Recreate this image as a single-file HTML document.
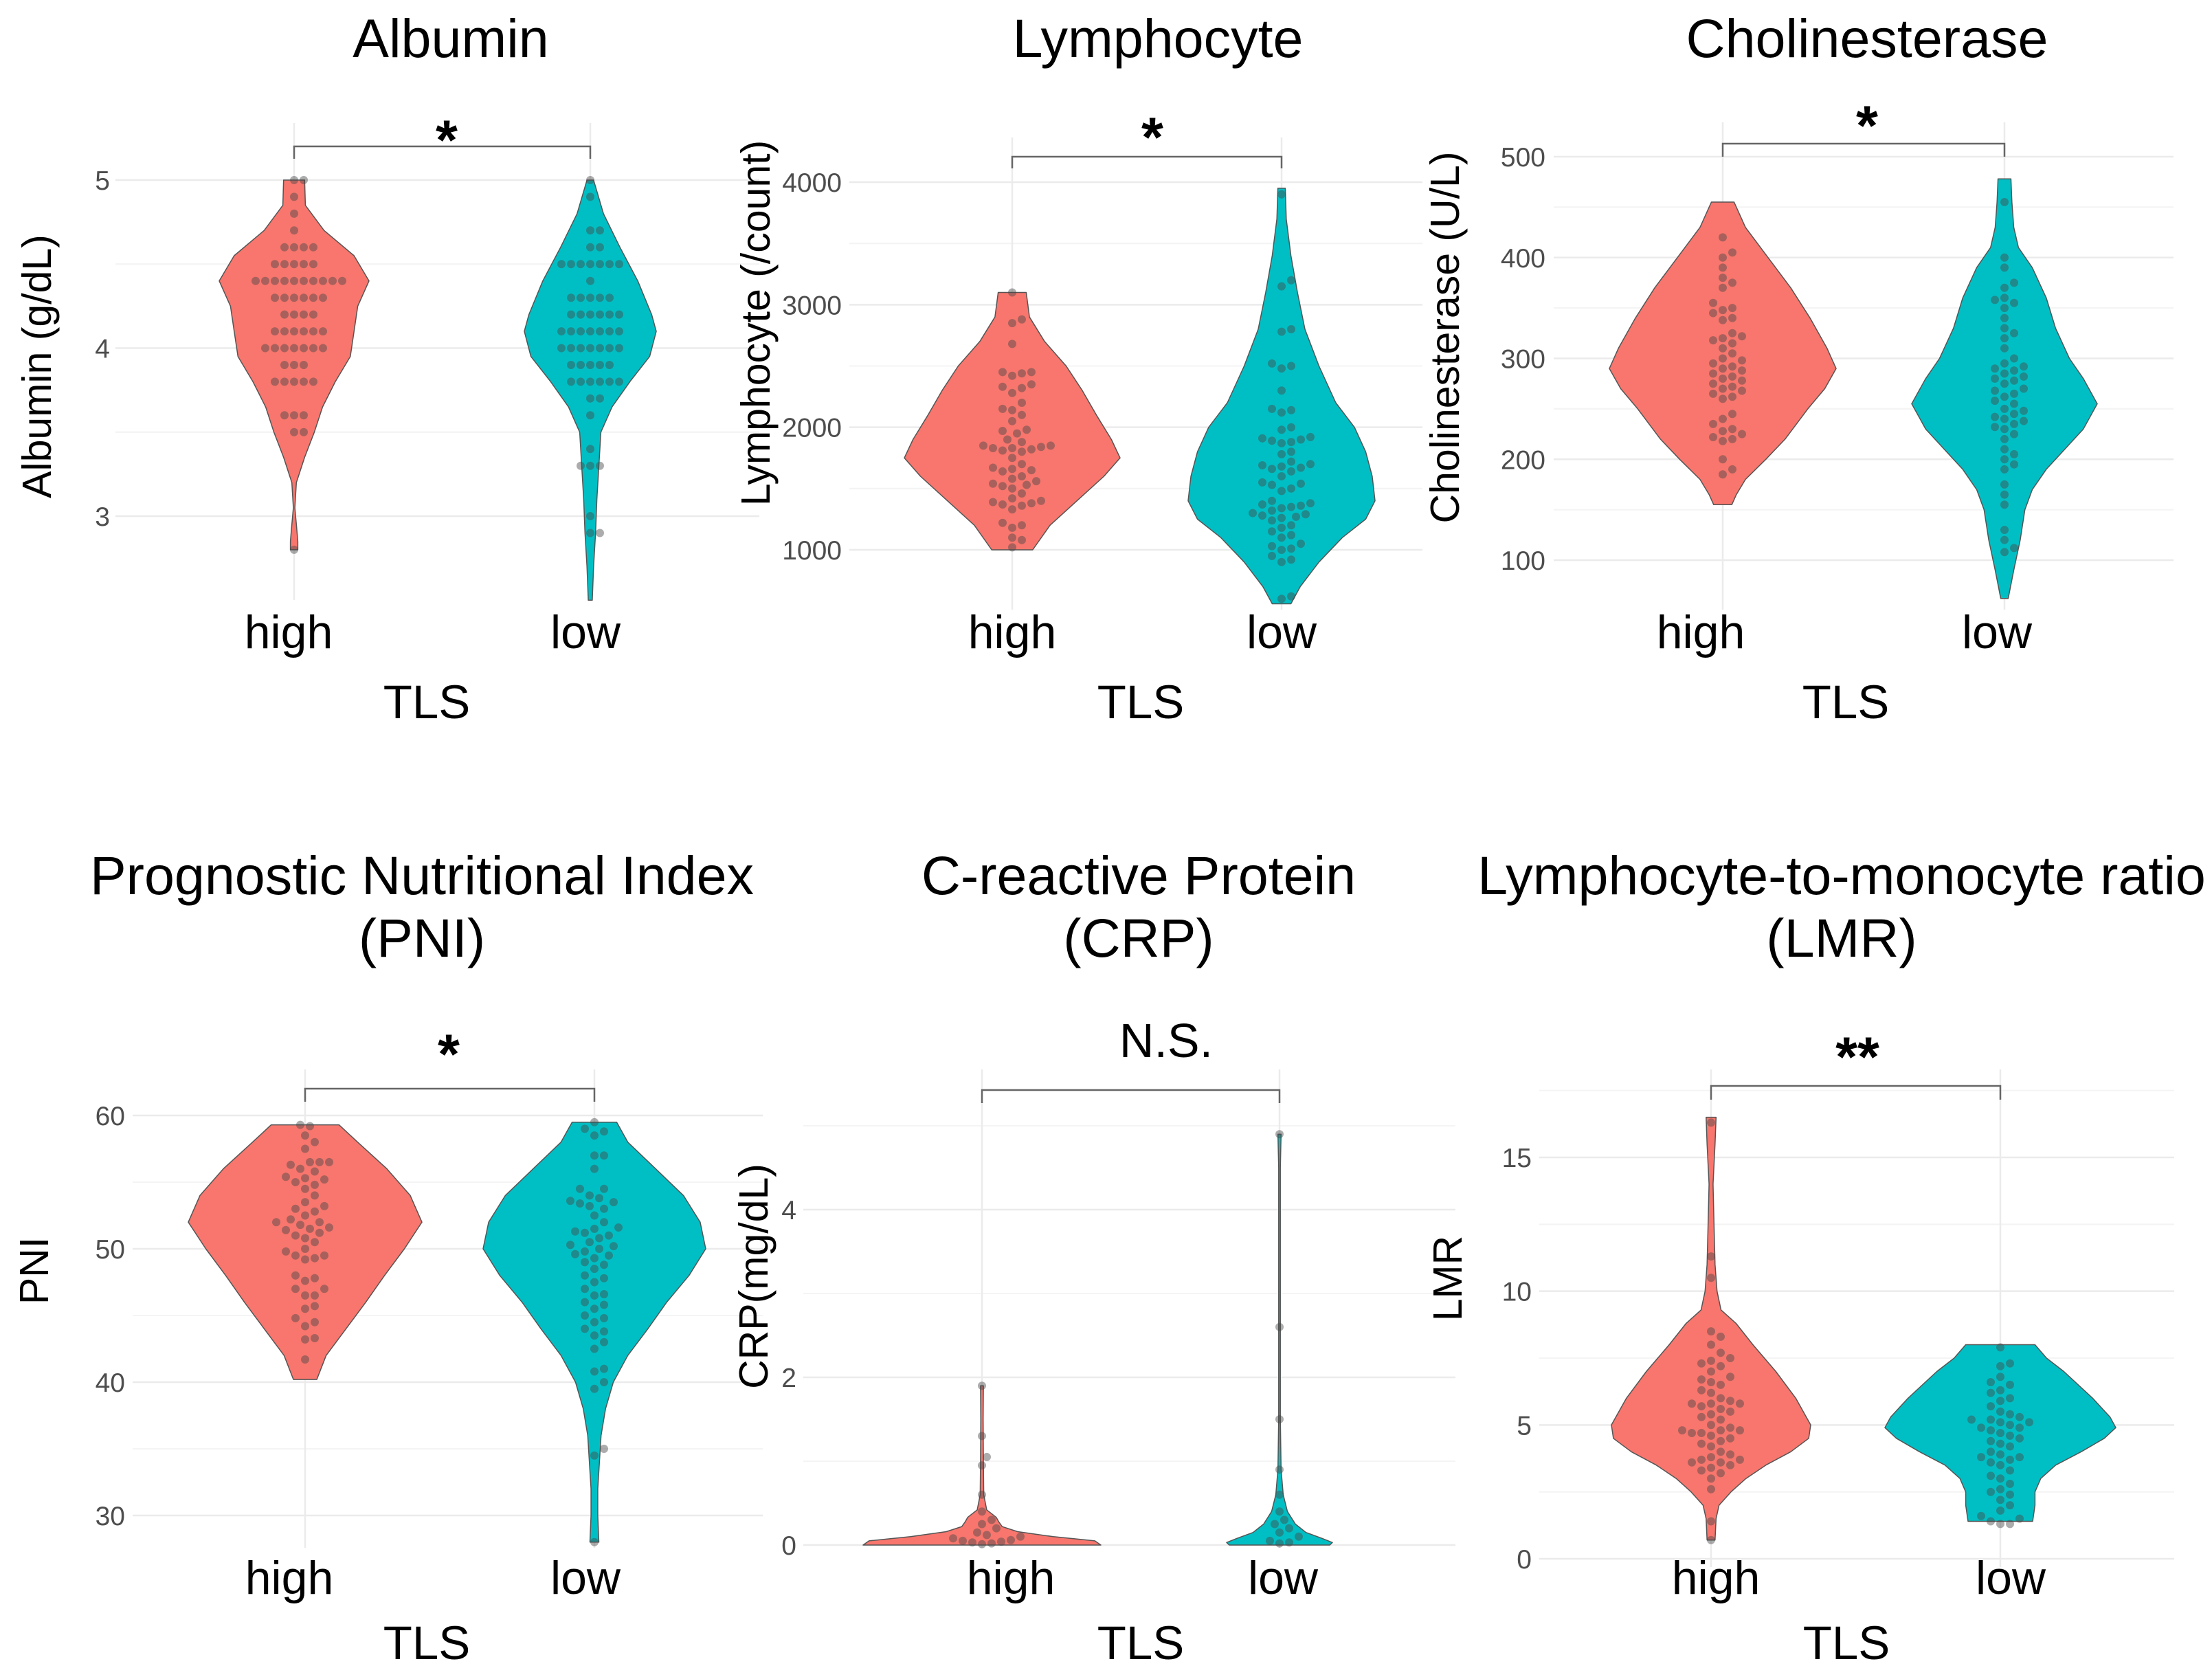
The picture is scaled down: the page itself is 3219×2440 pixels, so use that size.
<!DOCTYPE html>
<html><head><meta charset="utf-8"><style>
html,body{margin:0;padding:0;background:#fff;}
svg{display:block;font-family:"Liberation Sans",Arial,sans-serif;}
</style></head><body>
<svg id="fig" width="3219" height="2440" viewBox="0 0 3219 2440" xmlns="http://www.w3.org/2000/svg"></svg>
<script>
// ---------- data ----------
const categories = ["high","low"];
const albTicks = [3,4,5];
const albHighProfV = [5.0,4.85,4.7,4.55,4.4,4.25,4.1,3.95,3.8,3.65,3.5,3.35,3.2,3.05,2.95,2.85,2.8];
const albHighProfW = [0.14,0.15,0.4,0.8,1.0,0.85,0.8,0.75,0.55,0.38,0.27,0.14,0.03,0.01,0.03,0.05,0.05];
const albLowProfV = [5.0,4.8,4.6,4.4,4.2,4.1,3.95,3.8,3.65,3.5,3.3,3.1,2.9,2.7,2.5];
const albLowProfW = [0.05,0.2,0.45,0.72,0.93,1.0,0.9,0.6,0.33,0.16,0.13,0.1,0.08,0.05,0.03];
const albHighDotV = [5.0,4.9,4.8,4.7,4.6,4.5,4.4,4.3,4.2,4.1,4.0,3.9,3.8,3.6,3.5,2.8];
const albHighDotN = [2,1,1,1,4,5,10,6,4,6,7,3,5,3,2,1];
const albLowDotV = [5.0,4.9,4.7,4.6,4.5,4.4,4.3,4.2,4.1,4.0,3.9,3.8,3.7,3.6,3.4,3.3,3.0,2.9];
const albLowDotN = [1,1,2,2,7,1,5,6,7,7,5,6,2,1,1,3,1,2];

const lymTicks = [1000,2000,3000,4000];
const lymHighProfV = [3100,2900,2700,2500,2300,2100,1900,1750,1600,1400,1200,1000];
const lymHighProfW = [0.13,0.16,0.3,0.5,0.65,0.78,0.92,1.0,0.85,0.6,0.35,0.19];
const lymLowProfV = [3950,3700,3400,3100,2800,2500,2200,2000,1800,1600,1400,1250,1100,900,700,560];
const lymLowProfW = [0.04,0.05,0.1,0.17,0.25,0.4,0.58,0.78,0.9,0.97,1.0,0.9,0.65,0.4,0.2,0.1];
const lymHighDots = [3100,2880,2850,2680,2450,2450,2440,2420,2350,2330,2320,2280,2200,2150,2140,2100,2050,1980,1970,1950,1900,1880,1850,1850,1840,1830,1830,1820,1810,1800,1750,1700,1670,1660,1650,1640,1600,1580,1560,1540,1530,1520,1500,1460,1420,1400,1390,1380,1370,1360,1330,1220,1200,1180,1100,1080,1020];
const lymLowDots = [3900,3200,3150,2800,2780,2520,2500,2480,2300,2150,2140,2120,2000,1980,1920,1910,1900,1890,1880,1870,1800,1780,1720,1700,1690,1680,1670,1660,1640,1600,1550,1540,1530,1500,1480,1400,1380,1370,1360,1350,1340,1320,1300,1290,1280,1270,1260,1240,1200,1180,1150,1120,1100,1050,1030,1010,1000,950,920,900,620,600];

const choTicks = [100,200,300,400,500];
const choHighProfV = [455,430,400,370,340,310,290,270,250,220,200,180,165,155];
const choHighProfW = [0.1,0.2,0.4,0.6,0.77,0.92,1.0,0.9,0.75,0.55,0.38,0.2,0.12,0.08];
const choLowProfV = [478,455,430,410,390,360,330,300,280,255,230,210,190,170,150,120,90,62];
const choLowProfW = [0.07,0.08,0.1,0.15,0.3,0.45,0.55,0.7,0.85,1.0,0.85,0.65,0.45,0.3,0.22,0.17,0.1,0.04];
const choHighDots = [420,405,400,390,380,375,370,355,350,348,345,340,338,325,322,320,318,315,310,305,300,298,295,292,290,288,285,282,280,278,275,272,270,268,265,262,260,245,240,235,230,228,225,222,220,218,200,190,185];
const choLowDots = [455,400,390,375,370,360,358,355,350,340,330,325,320,310,300,295,292,290,288,285,282,280,278,275,270,268,265,262,258,255,250,248,245,242,240,238,235,232,230,225,220,210,205,200,195,190,175,165,155,130,120,112,108];

const pniTicks = [30,40,50,60];
const pniHighProfV = [59.3,58,56,54,52,50,48,46,44,42,40.2];
const pniHighProfW = [0.29,0.45,0.7,0.9,1.0,0.85,0.68,0.52,0.35,0.18,0.1];
const pniLowProfV = [59.5,58,56,54,52,50,48,46,44,42,40,38,36,34,32,30,28];
const pniLowProfW = [0.2,0.3,0.55,0.8,0.95,1.0,0.85,0.65,0.48,0.3,0.17,0.1,0.06,0.045,0.03,0.03,0.04];
const pniHighDots = [59.3,59.2,58.5,58,57.5,56.5,56.5,56.5,56.3,56,55.8,55.4,55.3,55.2,55,54.8,54.5,54,53.5,53.2,53,52.8,52.5,52.2,52,52,51.8,51.6,51.5,51.4,51.2,51,50.8,50.5,50,49.8,49.5,49.5,49.3,49.2,48,47.8,47.6,47,47,46.5,46.5,45.7,45.5,44.8,44.5,44.2,43.3,43.2,41.7];
const pniLowDots = [59.5,59,58.8,58.5,57,57,56,54.5,54.5,54,53.8,53.6,53.5,53.4,53.2,53,52.5,52,51.6,51.5,51.3,51.2,51,50.8,50.5,50.3,50.2,50,49.8,49.6,49.5,49.3,49,48.8,48.5,48,47.8,47.5,47,46.6,46.5,46,45.8,45.5,45,44.8,44.5,44,43.8,43.5,43,42.5,41,40.8,40,39.5,35,34.5,28];

const crpTicks = [0,2,4];
const crpHighProfV = [1.9,1.5,1.0,0.6,0.42,0.33,0.28,0.22,0.16,0.1,0.05,0.0];
const crpHighProfW = [0.012,0.01,0.012,0.015,0.04,0.12,0.14,0.17,0.3,0.6,0.95,1.0];
const crpLowProfV = [4.9,4.5,3.0,1.5,0.9,0.6,0.4,0.25,0.15,0.08,0.03,0.0];
const crpLowProfW = [0.03,0.015,0.015,0.015,0.03,0.07,0.15,0.3,0.5,0.8,1.0,0.95];
const crpHighDots = [1.9,1.3,1.05,0.95,0.6,0.4,0.3,0.25,0.2,0.15,0.12,0.1,0.08,0.06,0.05,0.04,0.03,0.02,0.01];
const crpLowDots = [4.9,2.6,1.5,0.9,0.6,0.4,0.3,0.25,0.2,0.15,0.1,0.05,0.03,0.02];

const lmrTicks = [0,5,10,15];
const lmrHighProfV = [16.5,15.5,14,12.5,11,10,9.3,8.8,8,7,6,5,4.5,4,3.5,3,2.5,2,1.5,0.7];
const lmrHighProfW = [0.05,0.04,0.02,0.03,0.04,0.06,0.1,0.25,0.42,0.65,0.85,1.0,0.98,0.8,0.55,0.35,0.2,0.08,0.05,0.04];
const lmrLowProfV = [8.0,7.5,7,6,5.3,4.9,4.5,4,3.5,3,2.5,2,1.4];
const lmrLowProfW = [0.3,0.4,0.55,0.8,0.95,1.0,0.9,0.7,0.48,0.35,0.3,0.3,0.28];
const lmrHighDots = [16.3,11.3,10.5,8.5,8.3,8.0,7.7,7.5,7.4,7.3,7.2,7.0,6.8,6.7,6.6,6.5,6.3,6.2,6.0,5.9,5.8,5.8,5.8,5.7,5.6,5.5,5.4,5.3,5.2,5.0,4.9,4.8,4.8,4.8,4.7,4.7,4.6,4.5,4.4,4.3,4.2,4.0,3.9,3.8,3.7,3.7,3.6,3.6,3.5,3.4,3.3,3.2,3.0,2.6,1.4,0.7];
const lmrLowDots = [7.9,7.3,7.2,6.8,6.6,6.5,6.3,6.2,6.0,5.9,5.7,5.5,5.4,5.3,5.2,5.2,5.1,5.1,5.0,4.9,4.9,4.8,4.7,4.6,4.5,4.4,4.3,4.2,4.0,3.9,3.8,3.8,3.7,3.6,3.5,3.3,3.1,3.0,2.8,2.6,2.5,2.4,2.2,2.0,1.8,1.6,1.5,1.4,1.3,1.3];

function expand(v,n){const o=[];v.forEach((x,i)=>{for(let k=0;k<n[i];k++)o.push(x);});return o;}

// ---------- layout ----------
const panels = [
 {key:"albumin",title:["Albumin"],ylab:"Albumin (g/dL)",ticks:albTicks,t0:3,p0:751,t1:5,p1:262,top:179,bot:873,gl:168,gr:1105,xs:[428,859],xl:[420,852],half:[109,96],
  prof:[[albHighProfV,albHighProfW],[albLowProfV,albLowProfW]],dots:[expand(albHighDotV,albHighDotN),expand(albLowDotV,albLowDotN)],
  lab:"*",labX:650,labY:232,brY:213,brT:231,tickR:160,ylx:53,yly:533,tcx:656,titleY:[83],xlY:943,tlsX:621,tlsY:1045},
 {key:"lymphocyte",title:["Lymphocyte"],ylab:"Lymphocyte (/count)",ticks:lymTicks,t0:1000,p0:800,t1:4000,p1:265,top:200,bot:887,gl:1236,gr:2070,xs:[1473,1865],xl:[1473,1865],half:[157,136],
  prof:[[lymHighProfV,lymHighProfW],[lymLowProfV,lymLowProfW]],dots:[lymHighDots,lymLowDots],
  lab:"*",labX:1677,labY:228,brY:228,brT:245,tickR:1225,ylx:1099,yly:470,tcx:1685,titleY:[83],xlY:943,tlsX:1660,tlsY:1045},
 {key:"cholinesterase",title:["Cholinesterase"],ylab:"Cholinesterase (U/L)",ticks:choTicks,t0:100,p0:815,t1:500,p1:228,top:178,bot:887,gl:2261,gr:3163,xs:[2507,2917],xl:[2475,2906],half:[165,135],
  prof:[[choHighProfV,choHighProfW],[choLowProfV,choLowProfW]],dots:[choHighDots,choLowDots],
  lab:"*",labX:2717,labY:211,brY:209,brT:228,tickR:2249,ylx:2102,yly:491,tcx:2717,titleY:[83],xlY:943,tlsX:2686,tlsY:1045},
 {key:"pni",title:["Prognostic Nutritional Index","(PNI)"],ylab:"PNI",ticks:pniTicks,t0:30,p0:2205,t1:60,p1:1623,top:1556,bot:2252,gl:193,gr:1110,xs:[444,865],xl:[421,852],half:[170,162],
  prof:[[pniHighProfV,pniHighProfW],[pniLowProfV,pniLowProfW]],dots:[pniHighDots,pniLowDots],
  lab:"*",labX:653,labY:1562,brY:1584,brT:1603,tickR:182,ylx:49,yly:1849,tcx:614,titleY:[1301,1392],xlY:2319,tlsX:621,tlsY:2414},
 {key:"crp",title:["C-reactive Protein","(CRP)"],ylab:"CRP(mg/dL)",ticks:crpTicks,t0:0,p0:2248,t1:4,p1:1760,top:1556,bot:2252,gl:1169,gr:2118,xs:[1429,1862],xl:[1471,1867],half:[173,77],
  prof:[[crpHighProfV,crpHighProfW],[crpLowProfV,crpLowProfW]],dots:[crpHighDots,crpLowDots],
  lab:"N.S.",labX:1697,labY:1538,brY:1586,brT:1605,tickR:1159,ylx:1096,yly:1857,tcx:1657,titleY:[1301,1392],xlY:2319,tlsX:1660,tlsY:2414},
 {key:"lmr",title:["Lymphocyte-to-monocyte ratio","(LMR)"],ylab:"LMR",ticks:lmrTicks,t0:0,p0:2268,t1:15,p1:1684,top:1556,bot:2280,gl:2240,gr:3164,xs:[2490,2911],xl:[2497,2926],half:[145,168],
  prof:[[lmrHighProfV,lmrHighProfW],[lmrLowProfV,lmrLowProfW]],dots:[lmrHighDots,lmrLowDots],
  lab:"**",labX:2703,labY:1566,brY:1580,brT:1600,tickR:2229,ylx:2106,yly:1860,tcx:2680,titleY:[1301,1392],xlY:2319,tlsX:2687,tlsY:2414}
];
const fills = ["#F8766D","#00BFC4"];
const svg = document.getElementById("fig");
const NS = "http://www.w3.org/2000/svg";
function mk(tag, attrs, parent){const e=document.createElementNS(NS,tag);for(const k in attrs)e.setAttribute(k,attrs[k]);(parent||svg).appendChild(e);return e;}

panels.forEach(p=>{
  const g = mk("g",{});
  
  
  const y = v => p.p0 + (v - p.t0) * (p.p1 - p.p0) / (p.t1 - p.t0);
  const step = p.ticks[1]-p.ticks[0];
  for(let i=0;i<p.ticks.length;i++){
    [p.ticks[i]-step/2, p.ticks[i]+step/2].forEach(m=>{
      const yy=y(m); if(yy<p.top||yy>p.bot) return;
      const l=mk("line",{x1:p.gl,x2:p.gr,y1:yy,y2:yy,stroke:"#f4f4f4","stroke-width":2},g);
      
      
    });
  }
  p.ticks.forEach(t=>{
    const l=mk("line",{x1:p.gl,x2:p.gr,y1:y(t),y2:y(t),stroke:"#ebebeb","stroke-width":2.5},g);
    
    
    const tx=mk("text",{x:p.tickR,y:y(t)+14,"text-anchor":"end","font-size":39,fill:"#4d4d4d"},g);
    tx.textContent=t;
    
    
  });
  p.xs.forEach(x=>{
    const l=mk("line",{x1:x,x2:x,y1:p.top,y2:p.bot,stroke:"#ebebeb","stroke-width":2.5},g);
    
    
  });
  p.prof.forEach((pr,ci)=>{
    const [vs,ws]=pr, cx=p.xs[ci], h=p.half[ci];
    const right = vs.map((v,i)=>[cx+ws[i]*h, y(v)]);
    const left = vs.map((v,i)=>[cx-ws[i]*h, y(v)]).reverse();
    const pts = right.concat(left).map(q=>q[0].toFixed(1)+","+q[1].toFixed(1)).join(" ");
    const poly=mk("polygon",{points:pts,fill:fills[ci],stroke:"#555","stroke-width":1.5,"stroke-linejoin":"round"},g);
    
    
    const r=6, d=2*r+2;
    const placed=[];
    const vals=p.dots[ci].slice().sort((a,b)=>a-b);
    vals.forEach(v=>{
      const yy=y(v);
      let off=0, k=0;
      while(true){
        const cand = k===0?0:(k%2===1? Math.ceil(k/2)*d*0.5 : -Math.ceil(k/2)*d*0.5);
        const ok = placed.every(q=>Math.hypot(q[0]-(cx+cand),q[1]-yy)>=d);
        if(ok){off=cand;break;}
        k++; if(k>60){off=cand;break;}
      }
      placed.push([cx+off,yy]);
      const c=mk("circle",{cx:(cx+off).toFixed(1),cy:yy.toFixed(1),r:r,fill:"rgba(70,70,70,0.45)"},g);
      
      
    });
  });
  const br=mk("path",{d:`M${p.xs[0]},${p.brT} V${p.brY} H${p.xs[1]} V${p.brT}`,fill:"none",stroke:"#666","stroke-width":2.5},g);
  
  
  const isStar = p.lab.indexOf("*")>=0;
  const st=mk("text",{x:p.labX,y:p.labY,"text-anchor":"middle","font-size":isStar?82:70,"font-weight":isStar?"bold":"normal",fill:"#000"},g);
  st.textContent=p.lab;
  
  
  p.title.forEach((t,i)=>{
    const tt=mk("text",{x:p.tcx,y:p.titleY[i],"text-anchor":"middle","font-size":79,fill:"#000"},g);
    tt.textContent=t;
    
    
  });
  p.xl.forEach((x,i)=>{
    const t=mk("text",{x:x,y:p.xlY,"text-anchor":"middle","font-size":68,fill:"#000"},g);
    t.textContent=categories[i];
    
    
  });
  const tl=mk("text",{x:p.tlsX,y:p.tlsY,"text-anchor":"middle","font-size":69,fill:"#000"},g);
  tl.textContent="TLS";
  
  
  const yl=mk("text",{x:0,y:0,"text-anchor":"middle","font-size":59,fill:"#000",transform:`translate(${p.ylx+21},${p.yly}) rotate(-90)`},g);
  yl.textContent=p.ylab;
  
  
});
</script>
</body></html>
